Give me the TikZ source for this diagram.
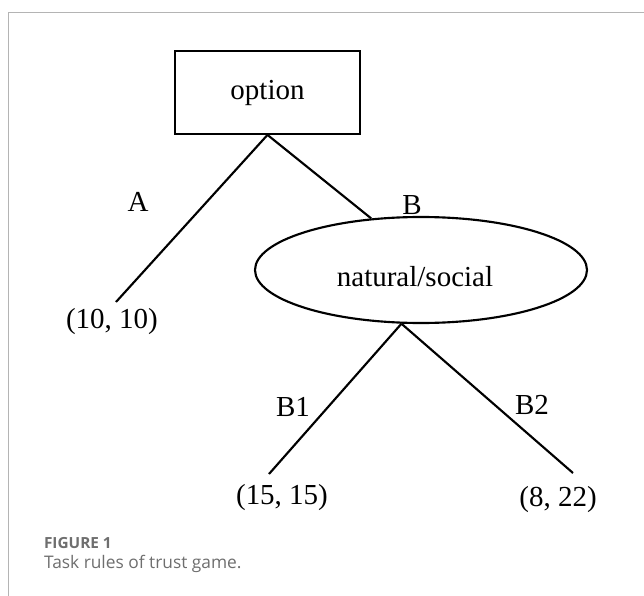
\documentclass[tikz,border=0pt]{standalone}
\usepackage{fontspec}
\setmainfont{Liberation Serif}
\newfontfamily\capfont{Open Sans}
\usetikzlibrary{shapes.geometric}
\definecolor{rahmen}{HTML}{B4B4B4}
\definecolor{capgrau}{HTML}{6E6E6E}

\begin{document}
\begin{tikzpicture}[x=0.75pt,y=-0.75pt,line width=1.6pt,font=\fontsize{21.75}{26}\selectfont]
\def\zweig#1#2{
	\draw #1 -- #2;
}
\useasboundingbox (0,0) rectangle (644,596);
\draw[rahmen,line width=1pt] (8.7,596) -- (8.7,12.7) -- (644,12.7);
\node[draw,minimum width=139pt,minimum height=62pt] (wahl) at (267.5,92.5) {option};
\node[draw,ellipse,minimum width=249pt,minimum height=79.5pt,inner sep=0pt] (natur) at (421,270) {};
\node (naturtext) at (415,277) {natural/social};
\coordinate (a) at (116,302);
\coordinate (b1) at (269,474);
\coordinate (b2) at (573,473);
\node (la) at (138,202) {A};
\node (lb) at (412,205) {B};
\node (lb1) at (293,407) {B1};
\node (lb2) at (532,405) {B2};
\node (pa) at (112,322) {(10, 10)};
\node (pb1) at (282,498) {(15, 15)};
\node (pb2) at (558,500) {(8, 22)};
\zweig{(wahl.south)}{(a)}
\zweig{(wahl.south)}{(natur.134)}
\zweig{(natur.250)}{(b1)}
\zweig{(natur.250)}{(b2)}
\node[anchor=west,inner sep=0pt,text=capgrau,font=\capfont\bfseries\fontsize{11.5}{14}\selectfont] (fig) at (43,543) {FIGURE 1};
\node[anchor=west,inner sep=0pt,text=capgrau,font=\capfont\fontsize{13}{16}\selectfont] (cap) at (43,564) {Task rules of trust game.};
\end{tikzpicture}
\end{document}
